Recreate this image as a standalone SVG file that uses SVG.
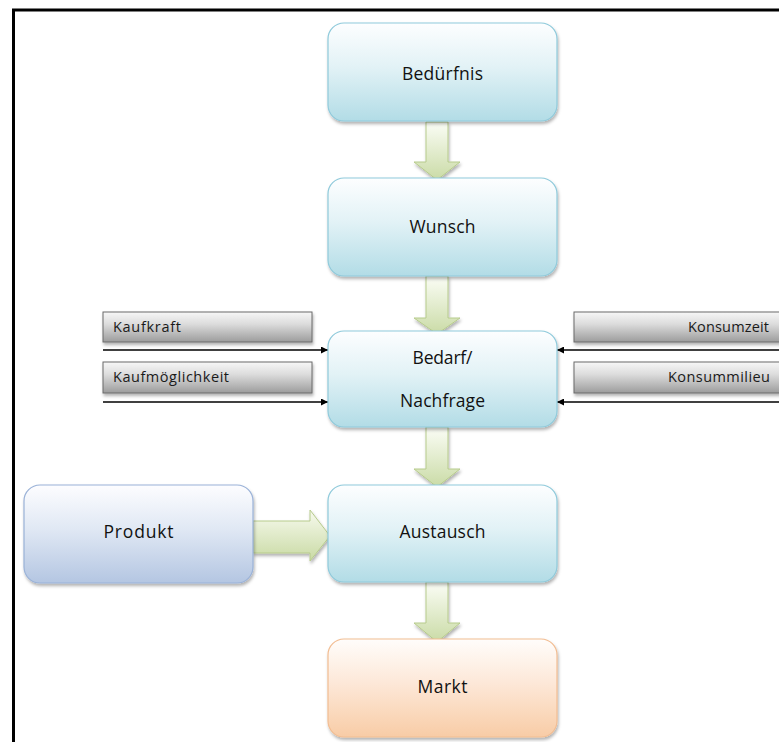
<svg xmlns="http://www.w3.org/2000/svg" width="779" height="742" viewBox="0 0 779 742">
  <defs>
    <linearGradient id="gBlue" x1="0" y1="0" x2="0" y2="1">
      <stop offset="0" stop-color="#fdfeff"/>
      <stop offset="0.45" stop-color="#e2f2f6"/>
      <stop offset="1" stop-color="#b2dce6"/>
    </linearGradient>
    <linearGradient id="gLav" x1="0" y1="0" x2="0" y2="1">
      <stop offset="0" stop-color="#fdfdff"/>
      <stop offset="0.45" stop-color="#e0e8f4"/>
      <stop offset="1" stop-color="#b4c6e2"/>
    </linearGradient>
    <linearGradient id="gPeach" x1="0" y1="0" x2="0" y2="1">
      <stop offset="0" stop-color="#fffdfb"/>
      <stop offset="0.45" stop-color="#fde8d8"/>
      <stop offset="1" stop-color="#f8cca6"/>
    </linearGradient>
    <linearGradient id="gGray" x1="0" y1="0" x2="0" y2="1">
      <stop offset="0" stop-color="#f7f7f7"/>
      <stop offset="0.4" stop-color="#dcdcdc"/>
      <stop offset="1" stop-color="#9c9c9c"/>
    </linearGradient>
    <linearGradient id="gArrowV" x1="0" y1="0" x2="0" y2="1">
      <stop offset="0" stop-color="#fbfdf6"/>
      <stop offset="1" stop-color="#cadba6"/>
    </linearGradient>
    <linearGradient id="gArrowH" x1="0" y1="0" x2="0" y2="1">
      <stop offset="0" stop-color="#f7faee"/>
      <stop offset="1" stop-color="#c9daa4"/>
    </linearGradient>
    <filter id="shadow" x="-10%" y="-10%" width="125%" height="130%">
      <feDropShadow dx="1" dy="2.5" stdDeviation="1.5" flood-color="#000" flood-opacity="0.3"/>
    </filter>
    <marker id="tip" viewBox="0 0 10 10" refX="10" refY="5" markerWidth="7" markerHeight="7" markerUnits="userSpaceOnUse" orient="auto">
      <path d="M0,0 L10,5 L0,10 z" fill="#000"/>
    </marker>
    <style>
      .label { font-family: "Open Sans", "Liberation Sans", sans-serif; font-size: 17.5px; fill: #111; text-anchor: middle; }
      .small { font-family: "Open Sans", "Liberation Sans", sans-serif; font-size: 14.5px; fill: #1a1a1a; }
      .box { stroke-width: 1.2; filter: url(#shadow); }
      .blue { fill: url(#gBlue); stroke: #8fcadb; }
      .lav { fill: url(#gLav); stroke: #9ab2d8; }
      .peach { fill: url(#gPeach); stroke: #f2bd92; }
      .bar { fill: url(#gGray); stroke: #6a6a6a; stroke-width: 1; filter: url(#shadow); }
      .block { stroke: #b7cb8c; stroke-width: 1; filter: url(#shadow); }
      .line { stroke: #000; stroke-width: 1.5; fill: none; marker-end: url(#tip); }
    </style>
  </defs>

  <rect width="779" height="742" fill="#fff"/>
  <!-- page frame -->
  <path d="M13.5,742 V10 H779" fill="none" stroke="#000" stroke-width="3"/>

  <!-- connectors -->
  <g id="connectors">
    <path class="block" fill="url(#gArrowV)" d="M426,122 H448 V162 H460 L437,180 L414,162 H426 Z"/>
    <path class="block" fill="url(#gArrowV)" d="M426,276 H448 V318 H460 L437,334 L414,318 H426 Z"/>
    <path class="block" fill="url(#gArrowV)" d="M426,427 H448 V469 H460 L437,487 L414,469 H426 Z"/>
    <path class="block" fill="url(#gArrowV)" d="M426,582 H448 V623 H460 L437,642 L414,623 H426 Z"/>
    <path class="block" fill="url(#gArrowH)" d="M253,521 H310 V510 L330,536 L310,561 V553 H253 Z"/>
    <line class="line" x1="103" y1="350" x2="328" y2="350"/>
    <line class="line" x1="103" y1="402" x2="328" y2="402"/>
    <line class="line" x1="779" y1="350" x2="557" y2="350"/>
    <line class="line" x1="779" y1="402" x2="557" y2="402"/>
  </g>

  <g id="beduerfnis">
    <rect class="box blue" x="328" y="23" width="229" height="98" rx="16"/>
    <text class="label" x="442.5" y="80" textLength="81" lengthAdjust="spacing">Bedürfnis</text>
  </g>
  <g id="wunsch">
    <rect class="box blue" x="328" y="178" width="229" height="98" rx="16"/>
    <text class="label" x="442.5" y="233" textLength="66" lengthAdjust="spacing">Wunsch</text>
  </g>
  <g id="bedarf">
    <rect class="box blue" x="328" y="331" width="229" height="96" rx="16"/>
    <text class="label" x="442.5" y="364" textLength="60" lengthAdjust="spacing">Bedarf/</text>
    <text class="label" x="442.5" y="407" textLength="85" lengthAdjust="spacing">Nachfrage</text>
  </g>
  <g id="austausch">
    <rect class="box blue" x="328" y="485" width="229" height="97" rx="16"/>
    <text class="label" x="442.5" y="538" textLength="86" lengthAdjust="spacing">Austausch</text>
  </g>
  <g id="markt">
    <rect class="box peach" x="328" y="639" width="229" height="98" rx="16"/>
    <text class="label" x="442.5" y="693" textLength="50" lengthAdjust="spacing">Markt</text>
  </g>
  <g id="produkt">
    <rect class="box lav" x="24" y="485" width="229" height="98" rx="16"/>
    <text class="label" x="138.5" y="538" textLength="70" lengthAdjust="spacing">Produkt</text>
  </g>

  <g id="kaufkraft">
    <rect class="bar" x="103" y="312" width="209" height="30"/>
    <text class="small" x="113" y="332" textLength="68" lengthAdjust="spacing">Kaufkraft</text>
  </g>
  <g id="kaufmoeglichkeit">
    <rect class="bar" x="103" y="362" width="209" height="31"/>
    <text class="small" x="113" y="382" textLength="116" lengthAdjust="spacing">Kaufmöglichkeit</text>
  </g>
  <g id="konsumzeit">
    <rect class="bar" x="574" y="312" width="220" height="30"/>
    <text class="small" x="769" y="332" text-anchor="end" textLength="81" lengthAdjust="spacing">Konsumzeit</text>
  </g>
  <g id="konsummilieu">
    <rect class="bar" x="574" y="362" width="220" height="31"/>
    <text class="small" x="770" y="382" text-anchor="end" textLength="102" lengthAdjust="spacing">Konsummilieu</text>
  </g>
</svg>
